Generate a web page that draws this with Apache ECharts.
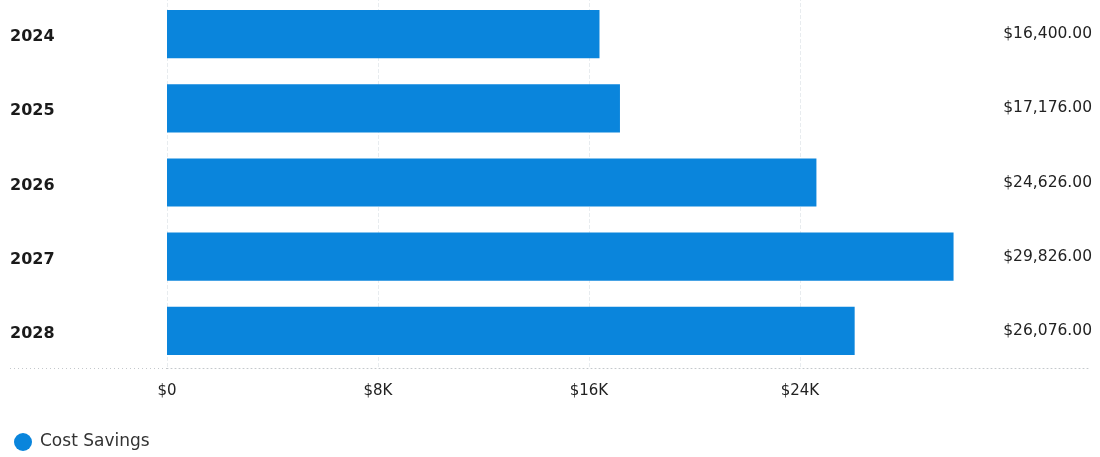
<!DOCTYPE html>
<html>
<head>
<meta charset="utf-8">
<script src="https://cdn.jsdelivr.net/npm/echarts@6/dist/echarts.min.js"></script>
<style>
html,body{margin:0;padding:0;background:#fff;overflow:hidden;}
#chart{position:absolute;left:0;top:-3px;width:1100px;height:460px;}
</style>
</head>
<body>
<div id="chart"></div>
<script>
const categories = ['2024', '2025', '2026', '2027', '2028'];
const costSavings = [16400, 17176, 24626, 29826, 26076];
const seriesName = 'Cost Savings';
const xTickStep = 8000;
const xMax = 35000;

const fmtMoney = v => '$' + v.toLocaleString('en-US', {minimumFractionDigits: 2, maximumFractionDigits: 2});
const valueLabels = costSavings.map(fmtMoney);

const chart = echarts.init(document.getElementById('chart'));
const grid = {left: 167, width: 923, top: 0, height: 371};
const axisY = grid.top + grid.height;
const gc = '#e8ecef';
chart.setOption({
  animation: false,
  backgroundColor: '#ffffff',
  textStyle: {fontFamily: 'DejaVu Sans'},
  grid: grid,
  legend: {
    left: 14, top: 436, padding: 0,
    icon: 'circle', itemWidth: 18, itemHeight: 18,
    textStyle: {fontSize: 17, color: '#333', fontFamily: 'DejaVu Sans', padding: [0, 0, 0, 3]},
    data: [seriesName]
  },
  xAxis: {
    type: 'value', min: 0, max: xMax, interval: xTickStep,
    axisLine: {show: true, lineStyle: {color: '#c4c8cc', type: [1, 3], width: 1}},
    axisTick: {show: false},
    axisLabel: {
      margin: 16, fontSize: 15, color: '#222', fontFamily: 'DejaVu Sans',
      formatter: v => v > 24000 ? '' : (v === 0 ? '$0' : '$' + (v / 1000) + 'K')
    },
    splitLine: {show: true, lineStyle: {color: [gc, gc, gc, gc, 'rgba(0,0,0,0)', 'rgba(0,0,0,0)'], type: 'dashed', width: 1}}
  },
  yAxis: [{
    type: 'category', data: categories, inverse: true,
    axisLine: {show: false}, axisTick: {show: false},
    axisLabel: {
      align: 'left', margin: 157,
      formatter: v => '{y|' + v + '}',
      rich: {y: {fontSize: 16, fontWeight: 'bold', color: '#1a1a1a', fontFamily: 'DejaVu Sans', padding: [6, 0, 0, 0]}}
    }
  }, {
    type: 'category', data: valueLabels, inverse: true, position: 'right',
    axisLine: {show: false}, axisTick: {show: false},
    axisLabel: {align: 'right', margin: 2, fontSize: 15.5, color: '#222', fontFamily: 'DejaVu Sans'}
  }],
  graphic: [{
    type: 'line', z: 0,
    shape: {x1: 10, y1: axisY + 0.5, x2: grid.left, y2: axisY + 0.5},
    style: {stroke: '#c4c8cc', lineWidth: 1, lineDash: [1, 3]}
  }],
  series: [{
    name: seriesName, type: 'bar', data: costSavings,
    yAxisIndex: 0,
    barCategoryGap: '35%',
    itemStyle: {color: '#0a85dc'}
  }]
});
</script>
</body>
</html>
